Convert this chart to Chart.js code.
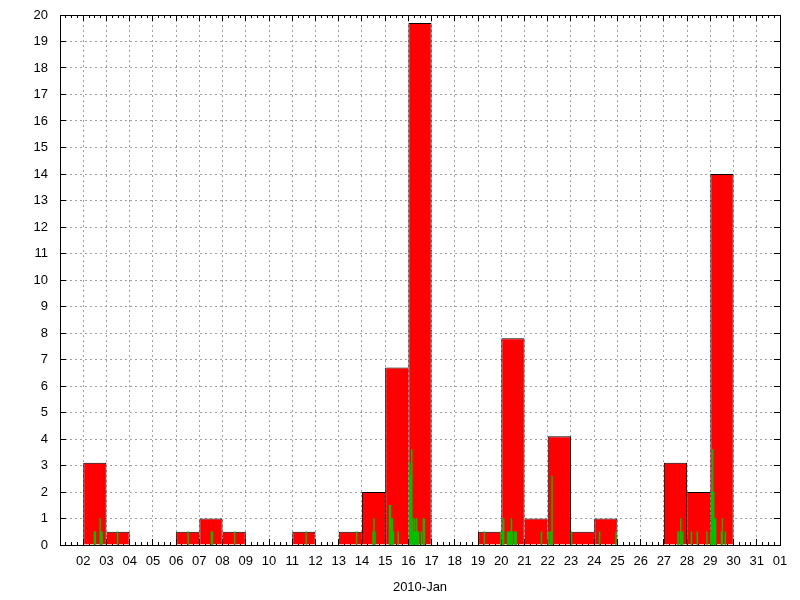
<!DOCTYPE html>
<html>
<head>
<meta charset="utf-8">
<title>2010-Jan</title>
<script src="https://cdn.jsdelivr.net/npm/chart.js@4.4.1/dist/chart.umd.min.js"></script>
<style>
    html, body { margin: 0; padding: 0; background: #fff; }
    canvas { display: block; }
</style>
</head>
<body>
<canvas id="rainChart" width="800" height="600"></canvas>
<script>
// days of January 2010
const days = [1, 2, 3, 4, 5, 6, 7, 8, 9, 10, 11, 12, 13, 14, 15, 16,
              17, 18, 19, 20, 21, 22, 23, 24, 25, 26, 27, 28, 29, 30, 31];

// daily totals (red boxes)
const dailyTotals = [0, 3.1, 0.5, 0, 0, 0.5, 1.0, 0.5, 0, 0, 0.5, 0, 0.5, 2.0, 6.7, 19.7,
                     0, 0, 0.5, 7.8, 1.0, 4.1, 0.5, 1.0, 0, 0, 3.1, 2.0, 14.0, 0, 0];

// hourly amounts (green spikes): day, hour of day, value
const hourlyDay = [2, 2, 2, 2, 2, 3, 6, 7, 7, 8, 11, 13, 14, 14, 14,
                   15, 15, 15, 15, 15, 15,
                   16, 16, 16, 16, 16, 16, 16, 16, 16, 16, 16, 16, 16,
                   19, 19,
                   20, 20, 20, 20, 20, 20, 20, 20, 20, 20, 20,
                   21, 22, 22, 22, 22, 23, 24, 24,
                   27, 27, 27, 27, 27, 28, 28, 28,
                   29, 29, 29, 29, 29, 29, 29, 29, 29];
const hourlyHour = [11, 12, 17, 18, 19, 11, 12, 12, 13, 12, 14, 18, 11, 12, 13,
                    4, 5, 6, 7, 8, 13,
                    1, 2, 3, 4, 5, 6, 7, 8, 9, 10, 13, 15, 16,
                    6, 23,
                    1, 2, 6, 7, 8, 9, 10, 11, 13, 14, 15,
                    17, 0, 2, 3, 4, 0, 5, 22,
                    14, 15, 17, 18, 19, 4, 10, 20,
                    0, 1, 2, 3, 4, 5, 11, 12, 15];
const hourlyValue = [0.5, 0.5, 1.0, 0.5, 0.5, 0.5, 0.5, 0.5, 0.5, 0.5, 0.5, 0.5, 0.5, 1.0, 0.5,
                     1.5, 1.5, 1.0, 1.0, 0.5, 0.5,
                     3.1, 2.6, 3.6, 1.0, 0.5, 1.0, 0.5, 1.0, 0.5, 0.5, 0.5, 1.0, 1.0,
                     0.5, 0.5,
                     0.5, 1.0, 0.5, 0.5, 0.5, 0.5, 1.0, 0.5, 0.5, 0.5, 0.5,
                     0.5, 0.5, 0.5, 0.5, 2.6, 0.5, 0.5, 0.5,
                     0.5, 0.5, 1.0, 0.5, 0.5, 0.5, 0.5, 0.5,
                     0.5, 2.0, 3.6, 2.0, 1.0, 1.0, 0.5, 1.0, 0.5];

// tick labels at day boundaries: 1 = Jan 01 00:00 ... 32 = Feb 01 00:00
const xTickLabels = ['', '02', '03', '04', '05', '06', '07', '08', '09', '10', '11',
                     '12', '13', '14', '15', '16', '17', '18', '19', '20', '21', '22',
                     '23', '24', '25', '26', '27', '28', '29', '30', '31', '01'];
const yMin = 0;
const yMax = 20;

const tickFont = { family: "'Liberation Sans', Arial, sans-serif", size: 13 };

// gnuplot style inward ticks and black frame
const gnuplotFrame = {
    id: "gnuplotFrame",
    beforeDatasetsDraw(chart) {
        const { ctx, chartArea: a, scales: { x, y } } = chart;
        const snap = p => Math.round(p - 0.5) + 0.5;
        ctx.save();
        ctx.strokeStyle = "#000";
        ctx.lineWidth = 1;
        ctx.beginPath();
        for (let v = x.min; v <= x.max; v += 0.25) {
            const px = snap(x.getPixelForValue(v));
            const len = Number.isInteger(v) ? 6 : 3;
            ctx.moveTo(px, a.bottom);
            ctx.lineTo(px, a.bottom - len);
            ctx.moveTo(px, a.top);
            ctx.lineTo(px, a.top + len);
        }
        for (let v = y.min; v <= y.max; v++) {
            const py = snap(y.getPixelForValue(v));
            ctx.moveTo(a.left, py);
            ctx.lineTo(a.left + 6, py);
            ctx.moveTo(a.right, py);
            ctx.lineTo(a.right - 6, py);
        }
        ctx.stroke();
        ctx.restore();
    },
    afterDatasetsDraw(chart) {
        const { ctx, chartArea: a } = chart;
        const snap = p => Math.round(p - 0.5) + 0.5;
        ctx.save();
        ctx.strokeStyle = "#000";
        ctx.lineWidth = 1;
        const l = snap(a.left), r = snap(a.right), t = snap(a.top), b = snap(a.bottom);
        ctx.strokeRect(l, t, r - l, b - t);
        ctx.restore();
    }
};

// one separator line per day boundary, like gnuplot boxes
function boxBorder(c) {
    const i = c.dataIndex;
    const cur = dailyTotals[i] || 0;
    const prev = i > 0 ? dailyTotals[i - 1] : 0;
    const next = i < dailyTotals.length - 1 ? dailyTotals[i + 1] : 0;
    return { top: 1, bottom: 0, left: prev < cur ? 1 : 0, right: next <= cur ? 1 : 0 };
}

// keep the plot area fixed, no extra room for half labels
function noScalePadding(s) {
    s.paddingTop = 0;
    s.paddingBottom = 0;
    s.paddingLeft = 0;
    s.paddingRight = 0;
}

const dailyPoints = days.map((d, i) => ({ x: d + 0.5, y: dailyTotals[i] > 0 ? dailyTotals[i] : null }));
const hourlyPoints = hourlyDay.map((d, i) => ({ x: d + (hourlyHour[i] + 0.5) / 24, y: hourlyValue[i] }));

const ctx = document.getElementById("rainChart").getContext("2d");

new Chart(ctx, {
    type: "bar",
    data: {
        datasets: [
            {
                label: "hourly",
                data: hourlyPoints,
                xAxisID: "xh",
                yAxisID: "y",
                backgroundColor: "#00c000",
                borderWidth: 0,
                barPercentage: 1,
                categoryPercentage: 1,
                inflateAmount: 0.25,
                grouped: false,
                order: 0
            },
            {
                label: "daily",
                data: dailyPoints,
                xAxisID: "x",
                yAxisID: "y",
                backgroundColor: "#ff0000",
                borderColor: "#000000",
                borderWidth: boxBorder,
                borderSkipped: false,
                barPercentage: 1,
                categoryPercentage: 1,
                inflateAmount: 0,
                grouped: false,
                order: 1
            }
        ]
    },
    options: {
        responsive: false,
        animation: false,
        events: [],
        layout: {
            padding: { top: 15, right: 20, bottom: 0, left: 0 }
        },
        plugins: {
            legend: { display: false },
            tooltip: { enabled: false }
        },
        scales: {
            x: {
                type: "linear",
                position: "bottom",
                min: 1,
                max: 32,
                offset: false,
                afterFit: s => { s.height = 55; noScalePadding(s); },
                ticks: {
                    stepSize: 1,
                    autoSkip: false,
                    maxRotation: 0,
                    padding: 9,
                    color: "#000",
                    font: tickFont,
                    callback: v => xTickLabels[v - 1]
                },
                grid: {
                    offset: false,
                    color: "#a0a0a0",
                    lineWidth: 1,
                    drawTicks: false
                },
                border: { display: false, dash: [2, 3] },
                title: {
                    display: true,
                    text: "2010-Jan",
                    color: "#000",
                    font: tickFont,
                    padding: { top: 0, bottom: 5 }
                }
            },
            xh: {
                type: "linear",
                position: "bottom",
                display: false,
                min: 1,
                max: 32,
                offset: false,
                grid: { offset: false }
            },
            y: {
                type: "linear",
                min: yMin,
                max: yMax,
                afterFit: s => { s.width = 60; noScalePadding(s); },
                ticks: {
                    stepSize: 1,
                    padding: 12,
                    color: "#000",
                    font: tickFont
                },
                grid: {
                    color: "#a0a0a0",
                    lineWidth: 1,
                    drawTicks: false
                },
                border: { display: false, dash: [2, 3] }
            }
        }
    },
    plugins: [gnuplotFrame]
});
</script>
</body>
</html>
